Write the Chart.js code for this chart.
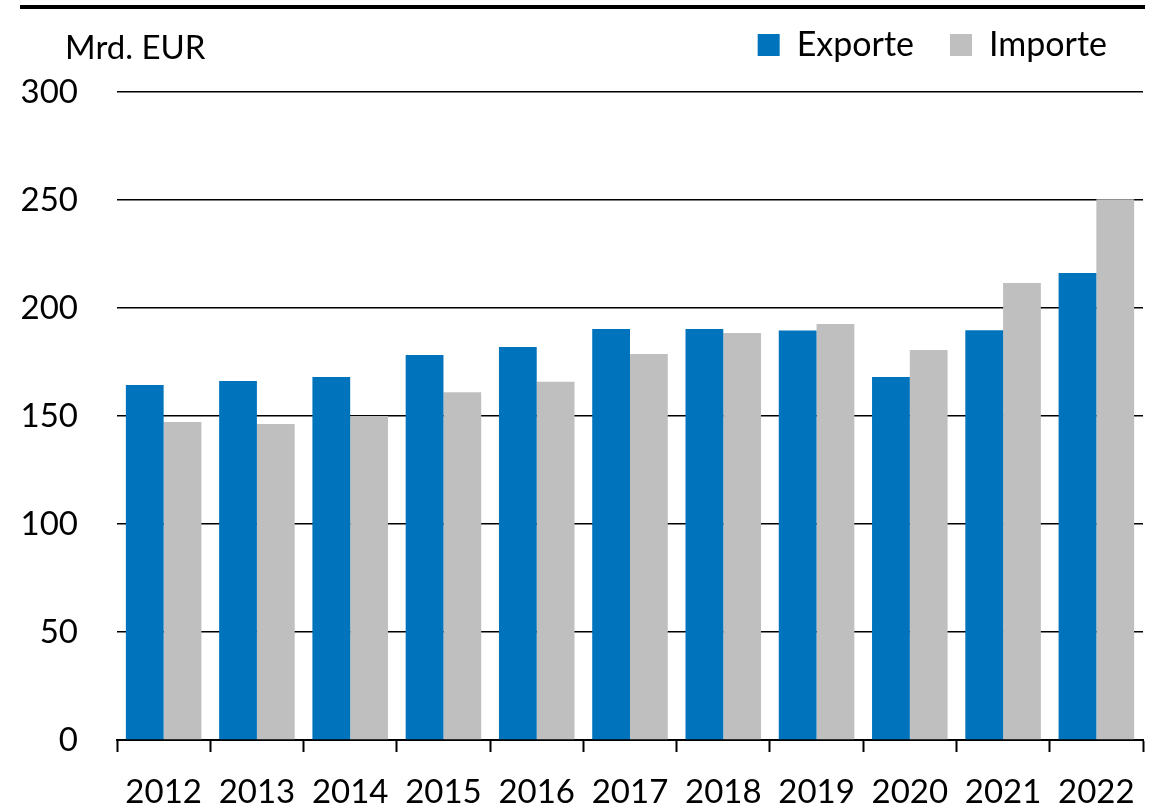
<!DOCTYPE html>
<html lang="de">
<head>
  <meta charset="UTF-8">
  <title>Exporte und Importe</title>
  <script src="https://cdn.jsdelivr.net/npm/chart.js"></script>
  <style>
    html, body { margin: 0; padding: 0; background: #fff; }
    #wrap { width: 1163px; height: 808px; position: relative; }
  </style>
</head>
<body>
  <div id="wrap"><canvas id="tradeChart"></canvas></div>

  <script>
    const years = ["2012", "2013", "2014", "2015", "2016", "2017", "2018", "2019", "2020", "2021", "2022"];
    const exporte = [164.4, 166.2, 168.0, 178.2, 182.0, 190.3, 190.3, 189.6, 168.0, 189.7, 216.2];
    const importe = [147.2, 146.3, 150.0, 161.0, 165.8, 178.7, 188.4, 192.6, 180.5, 211.6, 250.3];
    const yTicks = [0, 50, 100, 150, 200, 250, 300];

    const FONT = "Lato, 'Noto Sans', sans-serif";

    // top rule and unit label
    const decor = {
      id: "decor",
      afterDraw(chart) {
        const ctx = chart.ctx;
        ctx.save();
        ctx.fillStyle = "#000";
        ctx.fillRect(20, 5, 1125, 4);
        ctx.font = "33px " + FONT;
        ctx.textBaseline = "middle";
        ctx.textAlign = "left";
        ctx.fillText("Mrd. EUR", 65, 48);
        ctx.restore();
      }
    };

    // legend box gets a fixed height so the plot starts at the 300 line
    const legendGap = {
      id: "legendGap",
      beforeInit(chart) {
        const fit = chart.legend.fit;
        chart.legend.fit = function () {
          fit.bind(chart.legend)();
          this.height = 100;
        };
      }
    };

    new Chart(document.getElementById("tradeChart"), {
      type: "bar",
      data: {
        labels: years,
        datasets: [
          { label: "Exporte", data: exporte, backgroundColor: "#0073BD" },
          { label: "Importe", data: importe, backgroundColor: "#BFBFBF" }
        ]
      },
      options: {
        responsive: true,
        maintainAspectRatio: false,
        animation: false,
        datasets: { bar: { categoryPercentage: 0.81, barPercentage: 1.0 } },
        layout: { padding: { top: -8, right: 20, left: 0, bottom: 0 } },
        plugins: {
          tooltip: { enabled: false },
          legend: {
            position: "top",
            align: "end",
            labels: {
              boxWidth: 22,
              boxHeight: 22,
              padding: 36,
              color: "#000",
              font: { family: FONT, size: 34 }
            }
          }
        },
        scales: {
          x: {
            afterFit(scale) { scale.height = 68; },
            grid: {
              offset: true,
              drawOnChartArea: false,
              drawTicks: true,
              tickLength: 12,
              tickWidth: 2,
              tickColor: "#000"
            },
            border: { color: "#000", width: 2 },
            ticks: { color: "#000", padding: 21, maxRotation: 0, font: { family: FONT, size: 33 } }
          },
          y: {
            min: 0,
            max: 300,
            afterFit(scale) { scale.width = 117; },
            afterBuildTicks(scale) { scale.ticks = yTicks.map(v => ({ value: v })); },
            grid: { color: "#000", lineWidth: 1.5, drawTicks: false },
            border: { display: false },
            ticks: { color: "#000", padding: 39, font: { family: FONT, size: 33 } }
          }
        }
      },
      plugins: [decor, legendGap]
    });
  </script>
</body>
</html>
